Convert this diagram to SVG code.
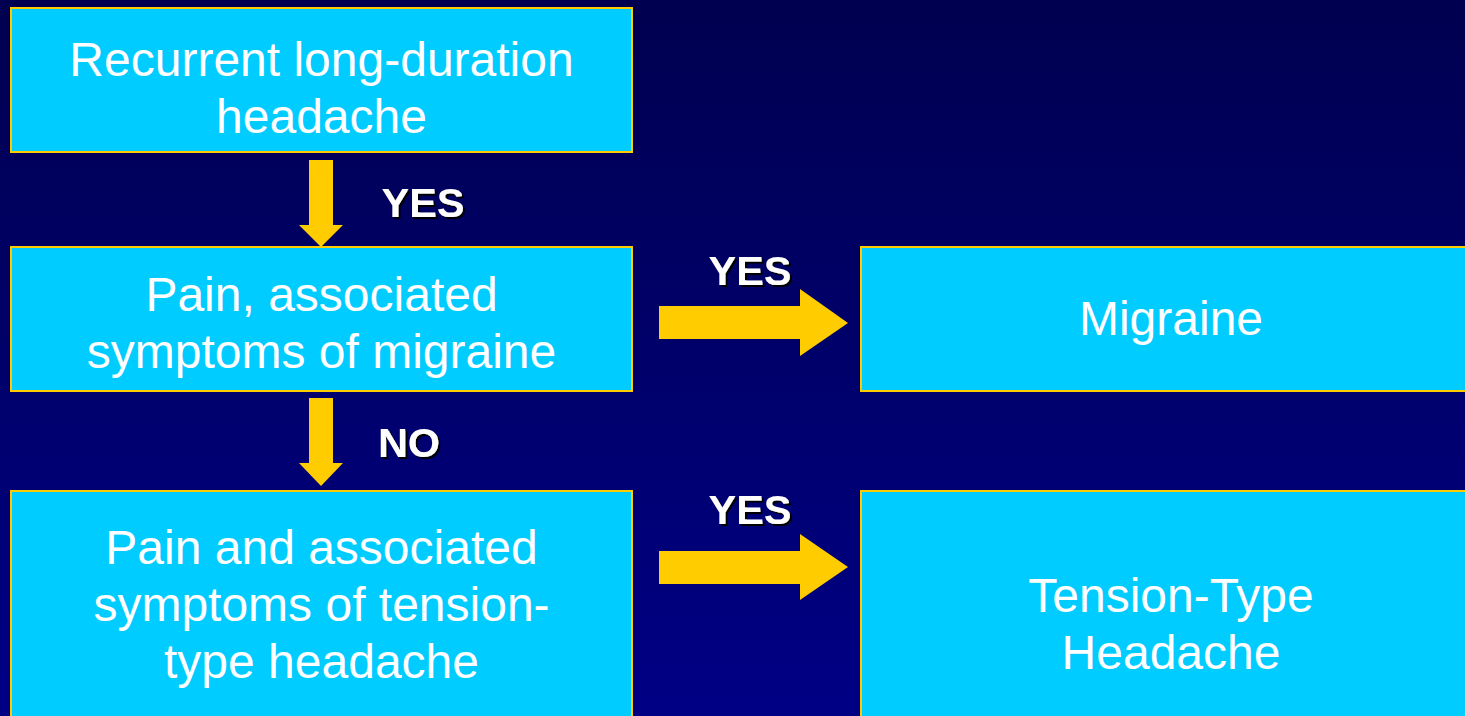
<svg xmlns="http://www.w3.org/2000/svg" width="1465" height="716" viewBox="0 0 1465 716">
<defs>
<linearGradient id="bg" x1="0" y1="0" x2="0" y2="1">
<stop offset="0" stop-color="#000050"/>
<stop offset="1" stop-color="#000085"/>
</linearGradient>
<filter id="sh" x="-10%" y="-10%" width="130%" height="130%">
<feOffset dx="2" dy="2" in="SourceAlpha" result="o"/>
<feFlood flood-color="#000000"/>
<feComposite in2="o" operator="in" result="s"/>
<feMerge><feMergeNode in="s"/><feMergeNode in="SourceGraphic"/></feMerge>
</filter>
</defs>
<style>
.box{fill:#00ccff;stroke:#ffcc00;stroke-width:2}
.t{font-family:"Liberation Sans",Arial,sans-serif;font-size:48px;fill:#ffffff;text-anchor:middle}
.lbl{font-family:"Liberation Sans",Arial,sans-serif;font-size:41.5px;font-weight:bold;fill:#ffffff;text-anchor:middle;filter:url(#sh)}
.arr{fill:#ffcc00}
</style>
<rect width="1465" height="716" fill="url(#bg)"/>
<g id="n1"><rect class="box" x="11" y="8" width="621" height="144"/>
<text class="t" x="321.5" y="76">Recurrent long-duration</text>
<text class="t" x="321.5" y="133">headache</text></g>
<g id="n2"><rect class="box" x="11" y="247" width="621" height="144"/>
<text class="t" x="321.5" y="311">Pain, associated</text>
<text class="t" x="321.5" y="368">symptoms of migraine</text></g>
<g id="n3"><rect class="box" x="11" y="491" width="621" height="240"/>
<text class="t" x="321.5" y="564">Pain and associated</text>
<text class="t" x="321.5" y="621">symptoms of tension-</text>
<text class="t" x="321.5" y="678">type headache</text></g>
<g id="n4"><rect class="box" x="861" y="247" width="620" height="144"/>
<text class="t" x="1171" y="335">Migraine</text></g>
<g id="n5"><rect class="box" x="861" y="491" width="620" height="240"/>
<text class="t" x="1171" y="612">Tension-Type</text>
<text class="t" x="1171" y="669">Headache</text></g>
<g id="connectors">
<polygon class="arr" points="309,160 333,160 333,225 343,225 321,247 299,225 309,225"/>
<polygon class="arr" points="309,398 333,398 333,463 343,463 321,486 299,463 309,463"/>
<polygon class="arr" points="659,306 800,306 800,289 848,323 800,356 800,339 659,339"/>
<polygon class="arr" points="659,551 800,551 800,534 848,567 800,600 800,584 659,584"/>
<text class="lbl" x="423" y="217">YES</text>
<text class="lbl" x="750" y="285">YES</text>
<text class="lbl" x="409" y="457">NO</text>
<text class="lbl" x="750" y="524">YES</text>
</g>
</svg>
